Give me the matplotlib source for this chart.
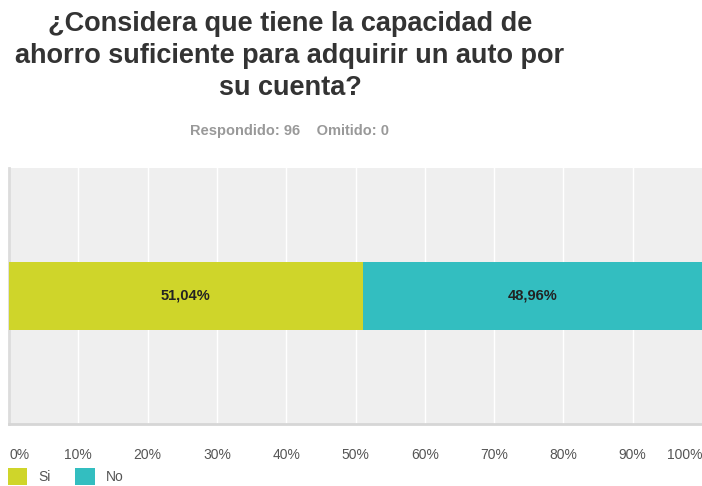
import matplotlib
matplotlib.use('Agg')
import matplotlib.pyplot as plt
from matplotlib.patches import Patch

plt.rcParams['font.family'] = ['Liberation Sans', 'DejaVu Sans']

title = '¿Considera que tiene la capacidad de\nahorro suficiente para adquirir un auto por\nsu cuenta?'
subtitle = 'Respondido: 96    Omitido: 0'
answers = ['Si', 'No']
shares = [51.04, 48.96]
colors = ['#cfd52a', '#33bec0']
ticks = [0, 10, 20, 30, 40, 50, 60, 70, 80, 90, 100]
tick_labels = ['%d%%' % t for t in ticks]

fig = plt.figure(figsize=(7.02, 4.86), dpi=100)
W, H = 702, 486
ax = fig.add_axes([9 / W, 1 - 424 / H, (702 - 9) / W, (424 - 168) / H])
ax.set_facecolor('#efefef')

left = 0
for name, val, col in zip(answers, shares, colors):
    ax.barh(0, val, left=left, height=0.266, color=col, zorder=3, label=name)
    ax.text(left + val / 2, 0, ('%.2f%%' % val).replace('.', ','), ha='center', va='center',
            fontsize=10.5, fontweight='bold', color='#222222', zorder=4)
    left += val

ax.set_xlim(0, 100)
ax.set_ylim(-0.5, 0.5)
ax.set_yticks([])
ax.set_xticks(ticks)
ax.set_xticklabels(tick_labels)
for t in ticks[1:-1]:
    ax.axvline(t, color='white', lw=1, zorder=1)
for s in ['top', 'right']:
    ax.spines[s].set_visible(False)
ax.spines['left'].set_color('#dcdcdc')
ax.spines['left'].set_linewidth(2)
ax.spines['bottom'].set_color('#d6d6d6')
ax.spines['bottom'].set_linewidth(2)
ax.tick_params(axis='x', length=0, pad=17, labelsize=10, labelcolor='#555555')
labs = ax.get_xticklabels()
labs[0].set_ha('left')
labs[-1].set_ha('right')

fig.text(290 / W, 1 - 56 / H, title, ha='center', va='center', fontsize=19.5,
         fontweight='bold', color='#333333', linespacing=1.3)
fig.text(290 / W, 1 - 131 / H, subtitle, ha='center', va='center', fontsize=10.5,
         fontweight='bold', color='#999999')

handles = [Patch(facecolor=c, edgecolor='none') for c in colors]
fig.legend(handles, answers, loc='lower left', bbox_to_anchor=(-5 / W, -11 / H), ncol=2,
           frameon=False, fontsize=10, handlelength=1.4, handleheight=1.4,
           handletextpad=0.8, columnspacing=1.8, labelcolor='#555555')

fig.savefig('out.png', dpi=100)
